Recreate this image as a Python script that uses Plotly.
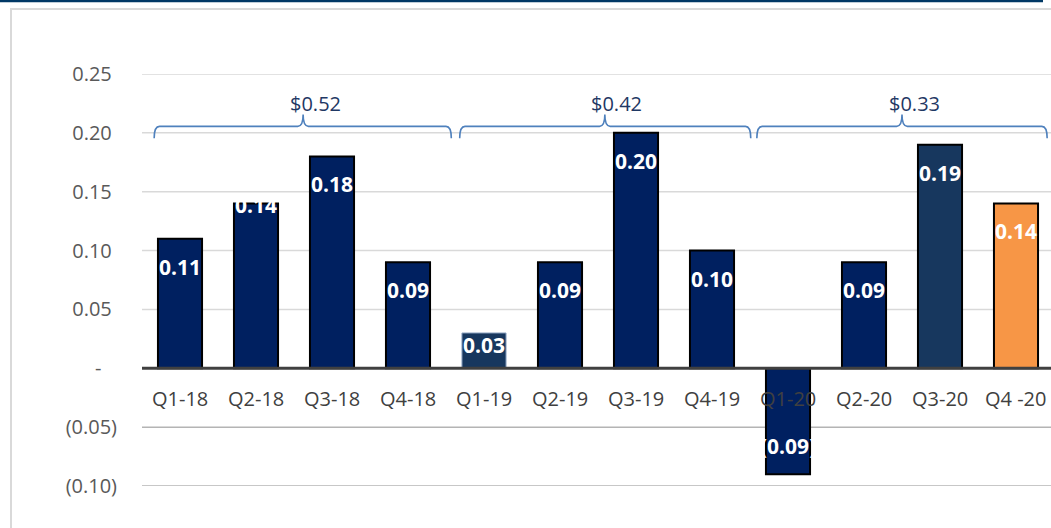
import plotly.graph_objects as go

# ---- data ----
quarters = ["Q1-18", "Q2-18", "Q3-18", "Q4-18", "Q1-19", "Q2-19",
            "Q3-19", "Q4-19", "Q1-20", "Q2-20", "Q3-20", "Q4 -20"]
eps = [0.11, 0.14, 0.18, 0.09, 0.03, 0.09, 0.20, 0.10, -0.09, 0.09, 0.19, 0.14]
group_labels = ["$0.52", "$0.42", "$0.33"]
group_ranges = [(0, 3), (4, 7), (8, 11)]
ytick_vals = [0.25, 0.20, 0.15, 0.10, 0.05, 0.0, -0.05, -0.10]
ytick_text = ["0.25", "0.20", "0.15", "0.10", "0.05", "-", "(0.05)", "(0.10)"]

# ---- styles ----
NAVY = "#002060"
NAVY2 = "#17375e"
ORANGE = "#f79646"
bar_colors = [NAVY] * 12
bar_colors[4] = NAVY2
bar_colors[10] = NAVY2
bar_colors[11] = ORANGE
line_colors = ["#000000"] * 12
line_colors[4] = "#8ea4c2"
line_widths = [2] * 12
line_widths[4] = 1
brace_pad_left = [0.34, 0.32, 0.41]
brace_pad_right = [0.57, 0.51, 0.41]
brace_center_shift = [0.12, 0.09, 0.0]
label_center_shift = [0.28, 0.24, 0.17]

W, H = 1051, 528
ML, MR, MT, MB = 142, 0, 74, 42
PW, PH = W - ML - MR, H - MT - MB
YMIN, YMAX = -0.10, 0.25
PX_PER_Y = PH / (YMAX - YMIN)
CAT_PX = 76
XMIN = -0.5
XMAX = XMIN + PW / CAT_PX
FONT = "Open Sans"


def pxx(p):
    return (p - ML) / PW


def pxy(p):
    return (H - MB - p) / PH


fig = go.Figure()
fig.add_trace(go.Bar(
    x=list(range(len(quarters))), y=eps, width=0.58,
    marker=dict(color=bar_colors, line=dict(color=line_colors, width=line_widths)),
    hoverinfo="skip", showlegend=False,
))

shapes = []
annotations = []

# gridlines
for v in ytick_vals:
    if v == 0:
        continue
    shapes.append(dict(type="line", xref="paper", yref="y", x0=0, x1=1, y0=v, y1=v,
                       line=dict(color="#d9d9d9" if v > 0 else "#b4b4b4", width=1.5),
                       layer="below"))

# zero axis line
shapes.append(dict(type="line", xref="paper", yref="y", x0=0, x1=1, y0=0, y1=0,
                   line=dict(color="#404040", width=3), layer="above"))

# braces
yH = 0.2055
yEnd = 0.1955
yTop = 0.2155
dx = 0.07
for k, ((s, e), lab) in enumerate(zip(group_ranges, group_labels)):
    x0 = s - brace_pad_left[k]
    x1 = e + brace_pad_right[k]
    xc = (s + e) / 2 + brace_center_shift[k]
    path = (f"M {x0},{yEnd} Q {x0},{yH} {x0+dx},{yH} L {xc-dx},{yH} "
            f"Q {xc},{yH} {xc},{yTop} Q {xc},{yH} {xc+dx},{yH} "
            f"L {x1-dx},{yH} Q {x1},{yH} {x1},{yEnd}")
    shapes.append(dict(type="path", xref="x", yref="y", path=path,
                       line=dict(color="#4f81bd", width=1.6)))
    annotations.append(dict(x=(s + e) / 2 + label_center_shift[k], y=yTop,
                            xref="x", yref="y", text=lab,
                            showarrow=False, yanchor="bottom", yshift=-4,
                            font=dict(family=FONT, size=20, color="#1f3864")))

# bar value labels
for i, v in enumerate(eps):
    txt = f"{v:.2f}" if v >= 0 else f"({abs(v):.2f})"
    hpx = abs(v) * PX_PER_Y
    off = min(28, hpx - 23)
    if i == 1:
        off = 2
    annotations.append(dict(x=i, y=v, xref="x", yref="y", text=f"<b>{txt}</b>",
                            showarrow=False, yanchor="middle",
                            yshift=-off if v >= 0 else off,
                            font=dict(family=FONT, size=21, color="white")))

# category labels at the zero line
for i, q in enumerate(quarters):
    annotations.append(dict(x=i, y=0, xref="x", yref="y", text=q, showarrow=False,
                            yanchor="middle", yshift=-30,
                            font=dict(family=FONT, size=20, color="#404040")))

# frame decorations
shapes.append(dict(type="rect", xref="paper", yref="paper",
                   x0=pxx(11), x1=pxx(1070), y0=pxy(9), y1=pxy(545),
                   line=dict(color="#d9d9d9", width=2), layer="below"))
shapes.append(dict(type="line", xref="paper", yref="paper",
                   x0=pxx(0), x1=pxx(1043), y0=pxy(1), y1=pxy(1),
                   line=dict(color="#003865", width=2.5)))

NB = "\u00a0"
ticktext = [t + (NB if not t.startswith("(") and t != "-" else "") for t in ytick_text]
ticktext = [t + NB * 3 if t == "-" else t for t in ticktext]

fig.update_layout(
    width=W, height=H,
    margin=dict(l=ML, r=MR, t=MT, b=MB),
    paper_bgcolor="white", plot_bgcolor="white",
    bargap=0.42,
    xaxis=dict(range=[XMIN, XMAX], showticklabels=False, showgrid=False,
               zeroline=False, showline=False, fixedrange=True),
    yaxis=dict(range=[YMIN, YMAX], tickvals=ytick_vals, ticktext=ticktext,
               showgrid=False, zeroline=False, showline=False,
               ticks="", ticklabelstandoff=24,
               tickfont=dict(family=FONT, size=20, color="#595959")),
    shapes=shapes,
    annotations=annotations,
)

fig.write_html("out.html", config={"displayModeBar": False},
               post_script="document.body.style.margin='0px';document.body.style.overflow='hidden';")
